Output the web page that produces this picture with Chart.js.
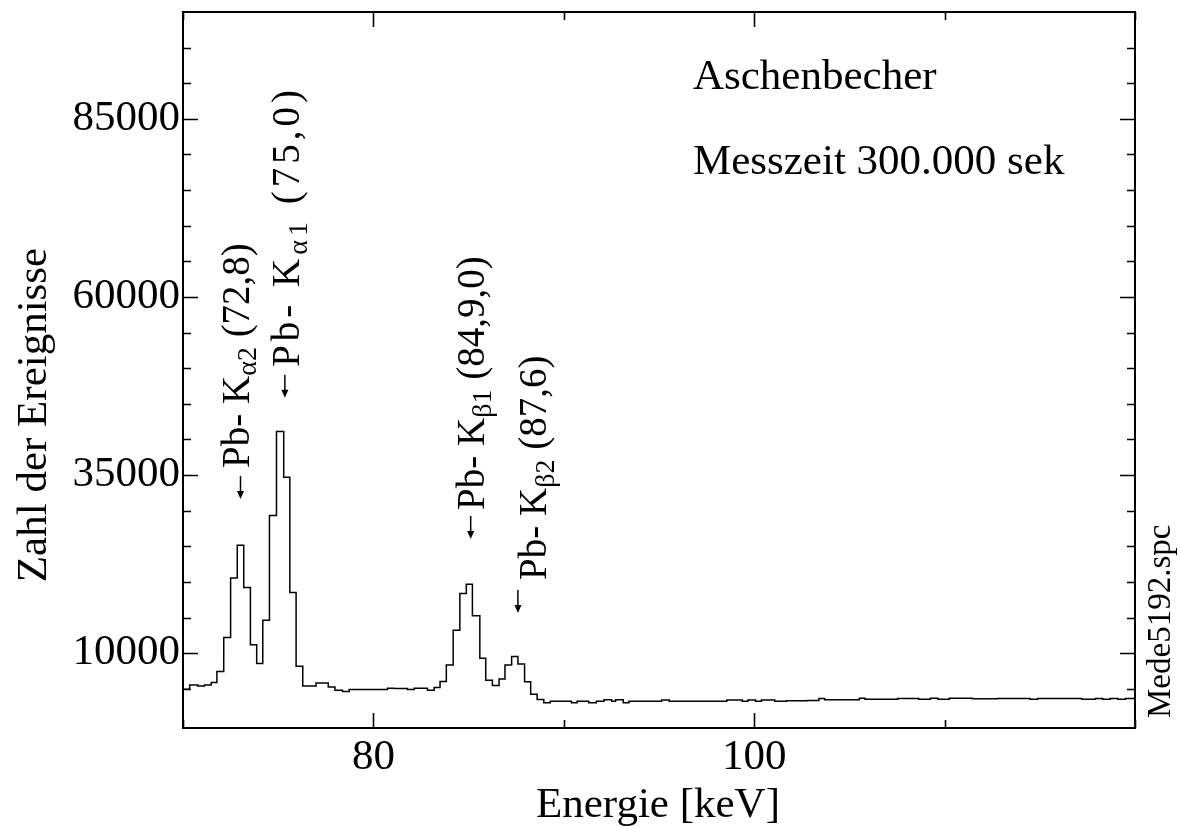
<!DOCTYPE html>
<html>
<head>
<meta charset="utf-8">
<title>Aschenbecher - Spektrum</title>
<script src="https://cdn.jsdelivr.net/npm/chart.js@4.4.1/dist/chart.umd.min.js"></script>
<style>
    html, body { margin: 0; padding: 0; background: #fff; }
    #spectrum { display: block; }
</style>
</head>
<body>
<canvas id="spectrum" width="1180" height="827"></canvas>
<script>
/**
 * Gamma spectrum of an ash tray (Pb K lines), drawn as a step histogram.
 */

// step start energies [keV] and counts
var energies = [
    70.00, 70.35, 70.78, 71.13, 71.48, 71.78, 72.14, 72.50, 72.85, 73.19,
    73.54, 73.87, 74.19, 74.54, 74.91, 75.29, 75.61, 75.94, 76.29, 76.99,
    77.63, 77.98, 78.38, 78.73, 80.74, 81.09, 81.79, 82.14, 82.84, 83.19,
    83.50, 83.83, 84.19, 84.54, 84.88, 85.20, 85.59, 85.90, 86.25, 86.60,
    86.91, 87.26, 87.59, 87.94, 88.26, 88.60, 88.95, 89.29, 90.40, 90.70,
    91.31, 91.71, 92.11, 92.52, 92.72, 93.12, 93.42, 95.14, 95.54, 98.56,
    99.37, 99.67, 100.07, 100.38, 101.08, 101.69, 102.79, 103.40, 103.70, 105.52,
    105.82, 107.53, 108.64, 109.25, 109.65, 110.25, 111.46, 112.77, 114.49, 114.89,
    117.21, 117.92, 118.30, 118.70, 119.10, 119.50, 120.00
];
var counts = [
    4950, 5550, 5410, 5550, 5870, 7420, 12190, 20570, 25160, 19210,
    11170, 8570, 14630, 29320, 41110, 34710, 18530, 8180, 5410, 5830,
    5270, 4810, 4610, 4890, 5090, 5030, 4890, 5090, 4810, 5170,
    6010, 8360, 13230, 18370, 19690, 15240, 9300, 6210, 5450, 6390,
    8360, 9550, 8500, 6000, 4240, 3510, 3050, 3260, 3040, 3260,
    3040, 3260, 3480, 3260, 3480, 3040, 3260, 3420, 3260, 3420,
    3260, 3420, 3260, 3420, 3260, 3330, 3370, 3640, 3480, 3690,
    3530, 3640, 3530, 3690, 3530, 3690, 3590, 3640, 3530, 3640,
    3530, 3640, 3530, 3640, 3530, 3640, 3640
];

// axis ticks
var xTicks = [70, 80, 90, 100, 110, 120];
var xLabelTicks = [80, 100];
var yTicks = [5000, 10000, 15000, 20000, 25000, 30000, 35000, 40000, 45000,
    50000, 55000, 60000, 65000, 70000, 75000, 80000, 85000, 90000, 95000];
var yLabelTicks = [10000, 35000, 60000, 85000];

// peak labels: arrow position (keV, counts) and text
var peakEnergies = [73.02, 75.35, 85.11, 87.59];
var peakArrowCounts = [31660, 45840, 26040, 15650];
var peakNames = ['Pb- K', 'Pb- K', 'Pb- K', 'Pb- K'];
var peakSubs = ['\u03b12', '\u03b11', '\u03b21', '\u03b22'];
var peakValues = [' (72,8)', ' (75,0)', ' (84,9,0)', ' (87,6)'];

var SERIF = '"Liberation Serif", "Times New Roman", serif';

function xyPoints() {
    var pts = [];
    for (var i = 0; i < energies.length; i++) {
        pts.push({ x: energies[i], y: counts[i] });
    }
    return pts;
}

/**
 * Frame with inward ticks on all four sides.
 */
var frameTicks = {
    id: 'frameTicks',
    afterDatasetsDraw: function(chart) {
        var ctx = chart.ctx;
        var a = chart.chartArea;
        var xs = chart.scales.x;
        var ys = chart.scales.y;
        ctx.save();
        ctx.strokeStyle = '#000';
        ctx.lineWidth = 1.6;
        xTicks.forEach(function(v) {
            var px = Math.round(xs.getPixelForValue(v)) + 0.5;
            var len = xLabelTicks.indexOf(v) >= 0 ? 15 : 8;
            ctx.beginPath();
            ctx.moveTo(px, a.bottom);
            ctx.lineTo(px, a.bottom - len);
            ctx.moveTo(px, a.top);
            ctx.lineTo(px, a.top + len);
            ctx.stroke();
        });
        yTicks.forEach(function(v) {
            var py = Math.round(ys.getPixelForValue(v)) + 0.5;
            var len = yLabelTicks.indexOf(v) >= 0 ? 15 : 8;
            ctx.beginPath();
            ctx.moveTo(a.left, py);
            ctx.lineTo(a.left + len, py);
            ctx.moveTo(a.right, py);
            ctx.lineTo(a.right - len, py);
            ctx.stroke();
        });
        ctx.lineWidth = 2;
        ctx.strokeRect(a.left, a.top, a.right - a.left, a.bottom - a.top);
        ctx.restore();
    }
};

// text with extra spacing between characters, returns the advance
function spacedText(ctx, text, x, y, spacing) {
    for (var i = 0; i < text.length; i++) {
        ctx.fillText(text[i], x, y);
        x += ctx.measureText(text[i]).width + spacing;
    }
    return x;
}

// rotated label "name + subscript + value", written bottom to top
function drawPeakLabel(ctx, x, y, name, sub, value, size, spacing) {
    ctx.save();
    ctx.translate(x, y);
    ctx.rotate(-Math.PI / 2);
    ctx.textAlign = 'left';
    ctx.textBaseline = 'alphabetic';
    ctx.font = size + 'px ' + SERIF;
    var pos = spacedText(ctx, name, 0, 0, spacing);
    ctx.font = Math.round(size * 0.72) + 'px ' + SERIF;
    pos = spacedText(ctx, sub, pos, size * 0.2, spacing);
    ctx.font = size + 'px ' + SERIF;
    spacedText(ctx, value, pos, 0, spacing);
    ctx.restore();
}

/**
 * Titles, notes and the peak annotations.
 */
var textLayer = {
    id: 'textLayer',
    afterDraw: function(chart) {
        var ctx = chart.ctx;
        var xs = chart.scales.x;
        var ys = chart.scales.y;
        ctx.save();
        ctx.fillStyle = '#000';
        ctx.strokeStyle = '#000';

        // axis titles
        ctx.font = '43px ' + SERIF;
        ctx.textAlign = 'center';
        ctx.textBaseline = 'alphabetic';
        ctx.fillText('Energie [keV]', 658, 817);
        ctx.save();
        ctx.translate(46, 415);
        ctx.rotate(-Math.PI / 2);
        ctx.fillText('Zahl der Ereignisse', 0, 0);
        ctx.restore();

        // notes
        ctx.textAlign = 'left';
        ctx.fillText('Aschenbecher', 693, 89);
        ctx.fillText('Messzeit 300.000 sek', 693, 174);

        ctx.save();
        ctx.font = '33px ' + SERIF;
        ctx.translate(1170, 718);
        ctx.rotate(-Math.PI / 2);
        ctx.fillText('Mede5192.spc', 0, 0);
        ctx.restore();

        // peak arrows + labels
        var textDx = [8, 14, 13, 28];
        var textGap = [8, 8, 6, 10];
        var letterGap = [0, 4, 0, 0];
        for (var i = 0; i < peakEnergies.length; i++) {
            var px = xs.getPixelForValue(peakEnergies[i]);
            var py = ys.getPixelForValue(peakArrowCounts[i]);
            ctx.lineWidth = 1.5;
            ctx.beginPath();
            ctx.moveTo(px, py - 23);
            ctx.lineTo(px, py - 6);
            ctx.stroke();
            ctx.beginPath();
            ctx.moveTo(px - 3.5, py - 8);
            ctx.lineTo(px + 3.5, py - 8);
            ctx.lineTo(px, py);
            ctx.closePath();
            ctx.fill();
            drawPeakLabel(ctx, px + textDx[i], py - 23 - textGap[i],
                peakNames[i], peakSubs[i], peakValues[i], 39, letterGap[i]);
        }
        ctx.restore();
    }
};

function initSpectrumChart() {
    var ctx = document.getElementById('spectrum').getContext('2d');

    new Chart(ctx, {
        type: 'line',
        data: {
            datasets: [{
                label: 'Aschenbecher',
                data: xyPoints(),
                stepped: true,
                borderColor: '#000',
                borderWidth: 1.5,
                pointRadius: 0,
                fill: false
            }]
        },
        options: {
            responsive: false,
            animation: false,
            devicePixelRatio: 1,
            layout: {
                padding: { top: 12, right: 45, bottom: 0, left: 0 }
            },
            plugins: {
                legend: { display: false },
                tooltip: { enabled: false }
            },
            scales: {
                x: {
                    type: 'linear',
                    min: 70,
                    max: 120,
                    grid: { display: false, drawTicks: false },
                    border: { display: false },
                    afterBuildTicks: function(scale) {
                        scale.ticks = xTicks.map(function(v) { return { value: v }; });
                    },
                    afterFit: function(scale) {
                        scale.height = 99;
                        scale.paddingLeft = 0;
                        scale.paddingRight = 0;
                    },
                    ticks: {
                        color: '#000',
                        font: { family: SERIF, size: 43 },
                        padding: 4,
                        maxRotation: 0,
                        autoSkip: false,
                        callback: function(v) {
                            return xLabelTicks.indexOf(v) >= 0 ? String(v) : null;
                        }
                    }
                },
                y: {
                    min: -500,
                    max: 100000,
                    grid: { display: false, drawTicks: false },
                    border: { display: false },
                    afterBuildTicks: function(scale) {
                        scale.ticks = yTicks.map(function(v) { return { value: v }; });
                    },
                    afterFit: function(scale) {
                        scale.width = 183;
                        scale.paddingTop = 0;
                        scale.paddingBottom = 0;
                    },
                    ticks: {
                        color: '#000',
                        font: { family: SERIF, size: 43 },
                        padding: 3,
                        autoSkip: false,
                        callback: function(v) {
                            return yLabelTicks.indexOf(v) >= 0 ? String(v) : null;
                        }
                    }
                }
            }
        },
        plugins: [frameTicks, textLayer]
    });
}

initSpectrumChart();
</script>
</body>
</html>
